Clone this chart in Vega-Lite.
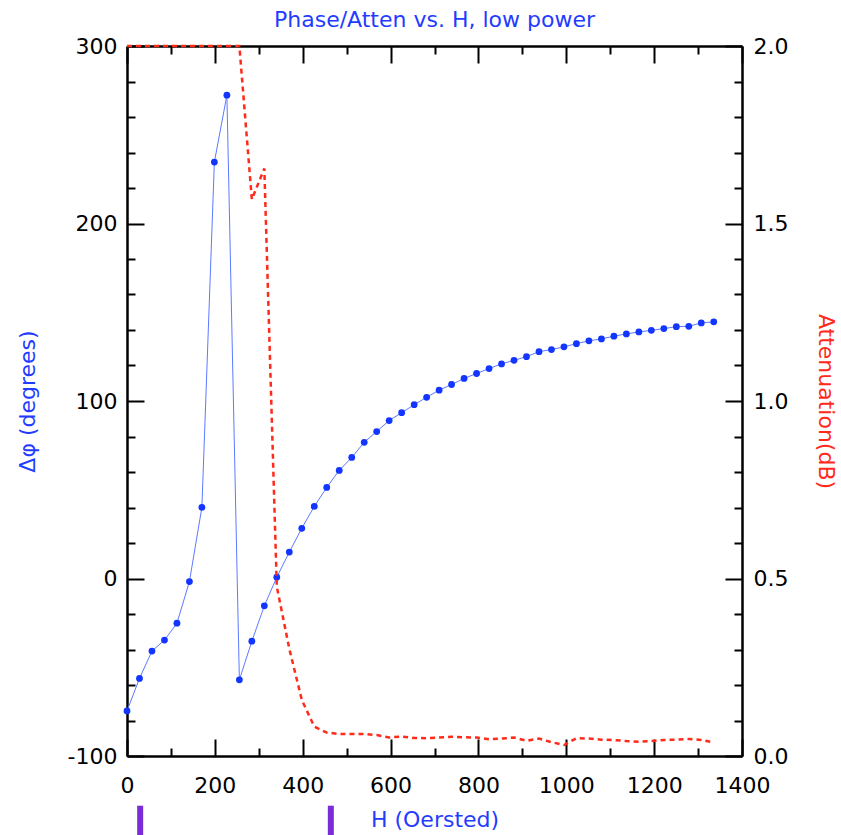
{
  "$schema": "https://vega.github.io/schema/vega-lite/v6.json",
  "width": 615,
  "height": 710,
  "autosize": {"type": "none"},
  "padding": {"left": 127, "top": 46, "right": 99, "bottom": 79},
  "background": "white",
  "title": {"text": "Phase/Atten vs. H, low power", "color": "#1f3cff", "font": "DejaVu Sans", "fontSize": 22, "fontWeight": "normal", "anchor": "middle", "offset": 3},
  "config": {
    "view": {"stroke": null},
    "axis": {"labelFont": "DejaVu Sans", "labelFontSize": 22, "labelColor": "black", "titleFont": "DejaVu Sans", "titleFontSize": 22, "titleFontWeight": "normal", "grid": false, "tickColor": "black", "tickWidth": 2, "domainColor": "black", "domainWidth": 2.5, "labelFlush": false, "labelOverlap": false, "labelBound": false}
  },
  "resolve": {"scale": {"y": "independent"}, "axis": {"x": "independent", "y": "independent"}},
  "data": {"values": [
    {"H": 0, "phase": -74.6, "att": 2.0},
    {"H": 28.4, "phase": -56.3, "att": 2.0},
    {"H": 56.8, "phase": -40.9, "att": 2.0},
    {"H": 85.3, "phase": -34.7, "att": 2.0},
    {"H": 113.7, "phase": -25.2, "att": 2.0},
    {"H": 142.1, "phase": -1.7, "att": 2.0},
    {"H": 170.5, "phase": 40.1, "att": 2.0},
    {"H": 198.9, "phase": 234.6, "att": 2.0},
    {"H": 227.4, "phase": 272.3, "att": 2.0},
    {"H": 255.8, "phase": -57.1, "att": 2.0},
    {"H": 284.2, "phase": -35.3, "att": 1.568},
    {"H": 312.6, "phase": -15.4, "att": 1.655},
    {"H": 341.0, "phase": 0.7, "att": 0.477},
    {"H": 369.5, "phase": 14.9, "att": 0.302},
    {"H": 397.9, "phase": 28.3, "att": 0.158},
    {"H": 426.3, "phase": 40.6, "att": 0.083},
    {"H": 454.7, "phase": 51.3, "att": 0.066},
    {"H": 483.1, "phase": 60.9, "att": 0.062},
    {"H": 511.6, "phase": 68.2, "att": 0.062},
    {"H": 540.0, "phase": 76.7, "att": 0.062},
    {"H": 568.4, "phase": 82.8, "att": 0.059},
    {"H": 596.8, "phase": 89.0, "att": 0.052},
    {"H": 625.2, "phase": 93.4, "att": 0.055},
    {"H": 653.7, "phase": 97.9, "att": 0.051},
    {"H": 682.1, "phase": 102.1, "att": 0.050},
    {"H": 710.5, "phase": 106.1, "att": 0.052},
    {"H": 738.9, "phase": 109.3, "att": 0.054},
    {"H": 767.3, "phase": 112.7, "att": 0.053},
    {"H": 795.8, "phase": 115.5, "att": 0.052},
    {"H": 824.2, "phase": 118.3, "att": 0.047},
    {"H": 852.6, "phase": 120.9, "att": 0.049},
    {"H": 881.0, "phase": 122.9, "att": 0.052},
    {"H": 909.4, "phase": 125.0, "att": 0.043},
    {"H": 937.9, "phase": 127.8, "att": 0.049},
    {"H": 966.3, "phase": 129.0, "att": 0.039},
    {"H": 994.7, "phase": 130.5, "att": 0.031},
    {"H": 1023.1, "phase": 132.3, "att": 0.050},
    {"H": 1051.5, "phase": 133.9, "att": 0.049},
    {"H": 1080.0, "phase": 135.0, "att": 0.046},
    {"H": 1108.4, "phase": 136.5, "att": 0.045},
    {"H": 1136.8, "phase": 137.8, "att": 0.042},
    {"H": 1165.2, "phase": 138.9, "att": 0.040},
    {"H": 1193.6, "phase": 139.8, "att": 0.042},
    {"H": 1222.1, "phase": 140.8, "att": 0.045},
    {"H": 1250.5, "phase": 141.9, "att": 0.046},
    {"H": 1278.9, "phase": 142.1, "att": 0.048},
    {"H": 1307.3, "phase": 144.0, "att": 0.045},
    {"H": 1335.7, "phase": 144.6, "att": 0.038}
  ]},
  "layer": [
    {
      "mark": {"type": "line", "color": "#5c7aff", "strokeWidth": 1},
      "encoding": {
        "x": {"field": "H", "type": "quantitative", "scale": {"domain": [0, 1400], "nice": false, "zero": false},
              "axis": {"orient": "bottom", "values": [0, 200, 400, 600, 800, 1000, 1200, 1400], "labelExpr": "'' + datum.value", "tickSize": -17, "labelPadding": 36, "title": "H (Oersted)", "titleColor": "#1f3cff", "titleX": 307.5, "titleY": 63, "titleAlign": "center", "titleBaseline": "middle"}},
        "y": {"field": "phase", "type": "quantitative", "scale": {"domain": [-100, 300], "nice": false, "zero": false},
              "axis": {"orient": "left", "values": [-100, 0, 100, 200, 300], "labelExpr": "'' + datum.value", "tickSize": -17, "labelPadding": 27, "title": "Δφ (degrees)", "titleColor": "#1f3cff", "titleAngle": 270, "titleX": -100, "titleY": 355, "titleAlign": "center", "titleBaseline": "middle"}}
      }
    },
    {
      "mark": {"type": "point", "filled": true, "size": 46, "color": "#1235ff", "opacity": 1},
      "encoding": {
        "x": {"field": "H", "type": "quantitative", "axis": null},
        "y": {"field": "phase", "type": "quantitative", "scale": {"domain": [-100, 300], "nice": false, "zero": false}, "axis": null}
      }
    },
    {
      "mark": {"type": "line", "color": "#ff2a1a", "strokeWidth": 2.5, "strokeDash": [5, 4]},
      "encoding": {
        "x": {"field": "H", "type": "quantitative",
              "axis": {"orient": "top", "values": [0, 200, 400, 600, 800, 1000, 1200, 1400], "tickSize": -17, "labels": false, "title": null}},
        "y": {"field": "att", "type": "quantitative", "scale": {"domain": [0, 2], "nice": false, "zero": false},
              "axis": {"orient": "right", "values": [0, 0.5, 1, 1.5, 2], "format": ".1f", "tickSize": -17, "labelPadding": 28, "title": "Attenuation(dB)", "titleColor": "#ff2a1a", "titleAngle": 90, "titleX": 83, "titleY": 355, "titleAlign": "center", "titleBaseline": "middle"}}
      }
    },
    {
      "mark": {"type": "point", "opacity": 0},
      "encoding": {
        "x": {"field": "H", "type": "quantitative",
              "axis": {"orient": "bottom", "values": [100, 300, 500, 700, 900, 1100, 1300], "tickSize": -8, "labels": false, "domain": false, "title": null}},
        "y": {"field": "phase", "type": "quantitative", "scale": {"domain": [-100, 300], "nice": false, "zero": false},
              "axis": {"orient": "left", "values": [-80, -60, -40, -20, 20, 40, 60, 80, 120, 140, 160, 180, 220, 240, 260, 280], "tickSize": -8, "labels": false, "domain": false, "title": null}}
      }
    },
    {
      "mark": {"type": "point", "opacity": 0},
      "encoding": {
        "x": {"field": "H", "type": "quantitative",
              "axis": {"orient": "top", "values": [100, 300, 500, 700, 900, 1100, 1300], "tickSize": -8, "labels": false, "domain": false, "title": null}},
        "y": {"field": "att", "type": "quantitative", "scale": {"domain": [0, 2], "nice": false, "zero": false},
              "axis": {"orient": "right", "values": [0.1, 0.2, 0.3, 0.4, 0.6, 0.7, 0.8, 0.9, 1.1, 1.2, 1.3, 1.4, 1.6, 1.7, 1.8, 1.9], "tickSize": -8, "labels": false, "domain": false, "title": null}}
      }
    },
    {
      "data": {"values": [{"H": 30, "lo": -128, "hi": -147}, {"H": 464, "lo": -128, "hi": -147}]},
      "mark": {"type": "rule", "color": "#7a2cd6", "strokeWidth": 6, "strokeCap": "butt"},
      "encoding": {
        "x": {"field": "H", "type": "quantitative", "axis": null},
        "y": {"field": "lo", "type": "quantitative", "scale": {"domain": [-100, 300], "nice": false, "zero": false}, "axis": null},
        "y2": {"field": "hi"}
      }
    }
  ]
}
